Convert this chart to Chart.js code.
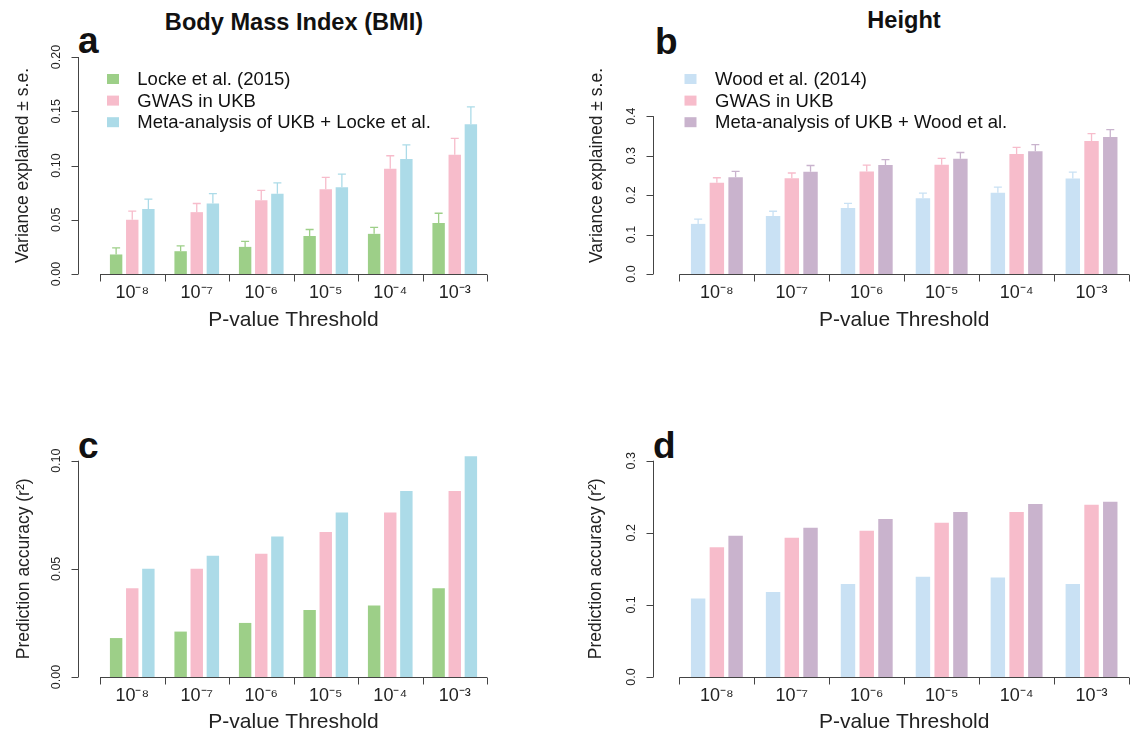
<!DOCTYPE html>
<html>
<head>
<meta charset="utf-8">
<script src="https://cdn.jsdelivr.net/npm/chart.js@4.4.1/dist/chart.umd.min.js"></script>
<style>
  body { margin: 0; width: 1131px; height: 736px; background: #fff; position: relative; overflow: hidden;
         font-family: "Liberation Sans", Arial, Helvetica, sans-serif; color: #111; }
  canvas { position: absolute; }
  .title { position: absolute; font-weight: bold; font-size: 23.6px; line-height: 1; transform: translateX(-50%); white-space: nowrap; }
  .letter { position: absolute; font-weight: bold; font-size: 37px; line-height: 1; }
</style>
</head>
<body>
<div class="title" style="left:294px;top:10.7px">Body Mass Index (BMI)</div>
<div class="title" style="left:904px;top:9.3px">Height</div>
<div class="letter" style="left:78px;top:22px">a</div>
<div class="letter" style="left:655px;top:23px">b</div>
<div class="letter" style="left:78px;top:427px">c</div>
<div class="letter" style="left:653px;top:427px">d</div>

<canvas id="chartA" width="565" height="368" style="left:0;top:0"></canvas>
<canvas id="chartB" width="566" height="368" style="left:565px;top:0"></canvas>
<canvas id="chartC" width="565" height="368" style="left:0;top:368px"></canvas>
<canvas id="chartD" width="566" height="368" style="left:565px;top:368px"></canvas>

<script>
// categories
const thresholds = ["10⁻⁸", "10⁻⁷", "10⁻⁶", "10⁻⁵", "10⁻⁴", "10⁻³"];

// a: BMI, variance explained (+ s.e.)
const bmiLocke     = [0.018, 0.021, 0.025, 0.035, 0.037, 0.047];
const bmiLockeSE   = [0.006, 0.005, 0.005, 0.006, 0.006, 0.009];
const bmiUKB       = [0.050, 0.057, 0.068, 0.078, 0.097, 0.110];
const bmiUKBSE     = [0.008, 0.008, 0.009, 0.011, 0.012, 0.015];
const bmiMeta      = [0.060, 0.065, 0.074, 0.080, 0.106, 0.138];
const bmiMetaSE    = [0.009, 0.009, 0.010, 0.012, 0.013, 0.016];

// b: Height, variance explained (+ s.e.)
const htWood       = [0.127, 0.147, 0.167, 0.192, 0.206, 0.242];
const htWoodSE     = [0.012, 0.012, 0.012, 0.013, 0.014, 0.016];
const htUKB        = [0.231, 0.243, 0.260, 0.277, 0.304, 0.337];
const htUKBSE      = [0.013, 0.013, 0.016, 0.016, 0.017, 0.019];
const htMeta       = [0.245, 0.259, 0.276, 0.292, 0.311, 0.347];
const htMetaSE     = [0.015, 0.016, 0.014, 0.016, 0.017, 0.019];

// c: BMI, prediction accuracy (r2)
const bmiLockeR2   = [0.018, 0.021, 0.025, 0.031, 0.033, 0.041];
const bmiUKBR2     = [0.041, 0.050, 0.057, 0.067, 0.076, 0.086];
const bmiMetaR2    = [0.050, 0.056, 0.065, 0.076, 0.086, 0.102];

// d: Height, prediction accuracy (r2)
const htWoodR2     = [0.109, 0.118, 0.129, 0.139, 0.138, 0.129];
const htUKBR2      = [0.180, 0.193, 0.203, 0.214, 0.229, 0.239];
const htMetaR2     = [0.196, 0.207, 0.219, 0.229, 0.240, 0.243];

// y tick labels
const ticksBmiVar  = [0, 0.05, 0.10, 0.15, 0.20];
const ticksHtVar   = [0, 0.1, 0.2, 0.3, 0.4];
const ticksBmiR2   = [0, 0.05, 0.10];
const ticksHtR2    = [0, 0.1, 0.2, 0.3];

const GREEN = "#9dcf88", PINK = "#f7bccb", BLUE = "#acdbe8", LIGHTBLUE = "#c9e1f4", PURPLE = "#c9b3cd";

// R-style look: detached axes, upper error bars, boxed legend
const rStyle = {
    id: "rStyle",
    afterDatasetsDraw(chart, args, opts) {
        const ctx = chart.ctx, x = chart.scales.x, y = chart.scales.y;
        ctx.save();

        // error bars (upper half only)
        chart.data.datasets.forEach((ds, i) => {
            if (!ds.se) return;
            ctx.strokeStyle = ds.backgroundColor;
            ctx.lineWidth = 1.3;
            chart.getDatasetMeta(i).data.forEach((bar, j) => {
                const top = y.getPixelForValue(ds.data[j] + ds.se[j]);
                ctx.beginPath();
                ctx.moveTo(bar.x, bar.y);
                ctx.lineTo(bar.x, top);
                ctx.moveTo(bar.x - 4, top);
                ctx.lineTo(bar.x + 4, top);
                ctx.stroke();
            });
        });

        // y axis line, from first to last tick
        ctx.strokeStyle = "#444";
        ctx.lineWidth = 1;
        const ax = Math.round(chart.chartArea.left - opts.gap) + 0.5;
        const yt = y.ticks;
        ctx.beginPath();
        ctx.moveTo(ax, y.getPixelForValue(yt[0].value));
        ctx.lineTo(ax, y.getPixelForValue(yt[yt.length - 1].value));
        yt.forEach(t => {
            const py = Math.round(y.getPixelForValue(t.value)) + 0.5;
            ctx.moveTo(ax, py);
            ctx.lineTo(ax - 7, py);
        });

        // x axis line with ticks at group boundaries
        const n = chart.data.labels.length;
        const half = (x.getPixelForValue(1) - x.getPixelForValue(0)) / 2;
        const base = Math.round(y.getPixelForValue(0)) + 0.5;
        ctx.moveTo(x.getPixelForValue(0) - half, base);
        ctx.lineTo(x.getPixelForValue(n - 1) + half, base);
        for (let k = 0; k <= n; k++) {
            const px = Math.round(x.getPixelForValue(0) - half + 2 * half * k) + 0.5;
            ctx.moveTo(px, base);
            ctx.lineTo(px, base + 7);
        }
        ctx.stroke();

        // legend
        if (opts.legend) {
            ctx.font = "18.5px 'Liberation Sans', Arial, sans-serif";
            ctx.textBaseline = "alphabetic";
            ctx.textAlign = "left";
            chart.data.datasets.forEach((ds, i) => {
                const b = opts.legend.base + i * 21.6;
                ctx.fillStyle = ds.backgroundColor;
                ctx.fillRect(opts.legend.box, b - 11, 12, 10);
                ctx.fillStyle = "#111";
                ctx.fillText(ds.label, opts.legend.text, b);
            });
        }
        ctx.restore();
    }
};

function makePanel(id, p) {
    return new Chart(document.getElementById(id), {
        type: "bar",
        data: {
            labels: thresholds,
            datasets: p.series.map(s => ({
                label: s.label, data: s.data, se: s.se,
                backgroundColor: s.color, borderWidth: 0, clip: false,
                categoryPercentage: 0.75, barPercentage: 0.77
            }))
        },
        options: {
            responsive: false,
            animation: false,
            layout: { padding: { left: 0, right: p.padRight, top: p.padTop, bottom: 0 } },
            plugins: {
                legend: { display: false },
                tooltip: { enabled: false },
                rStyle: { gap: p.gap, legend: p.legend }
            },
            scales: {
                x: {
                    grid: { display: false, drawTicks: false },
                    border: { display: false },
                    ticks: { color: "#222", font: { size: 18 }, padding: 8.3, maxRotation: 0, autoSkip: false },
                    title: { display: true, text: "P-value Threshold", color: "#222", font: { size: 21 },
                             padding: { top: 0, bottom: p.xTitlePad } },
                    afterFit: s => { s.height = p.xHeight; }
                },
                y: {
                    min: 0,
                    max: p.max,
                    afterBuildTicks: s => { s.ticks = p.ticks.map(v => ({ value: v })); },
                    grid: { display: false, drawTicks: false },
                    border: { display: false },
                    ticks: { color: "#222", font: { size: 12.5 }, minRotation: 90, maxRotation: 90,
                             crossAlign: "center", padding: p.tickPad,
                             callback: v => Number(v).toFixed(p.digits) },
                    title: { display: true, text: p.yTitle, color: "#222", font: { size: 17.5 },
                             padding: { top: p.yTitlePad, bottom: 0 } },
                    afterFit: s => { s.width = p.yWidth; }
                }
            }
        },
        plugins: [rStyle]
    });
}

makePanel("chartA", {
    series: [
        { label: "Locke et al. (2015)", data: bmiLocke, se: bmiLockeSE, color: GREEN },
        { label: "GWAS in UKB", data: bmiUKB, se: bmiUKBSE, color: PINK },
        { label: "Meta-analysis of UKB + Locke et al.", data: bmiMeta, se: bmiMetaSE, color: BLUE }
    ],
    max: 0.20, ticks: ticksBmiVar, digits: 2, yTitle: "Variance explained ± s.e.",
    padTop: 57, padRight: 78, yWidth: 100, xHeight: 94, xTitlePad: 34.7,
    gap: 22, tickPad: 30.8, yTitlePad: 12.5,
    legend: { box: 107, text: 137.3, base: 85 }
});

makePanel("chartB", {
    series: [
        { label: "Wood et al. (2014)", data: htWood, se: htWoodSE, color: LIGHTBLUE },
        { label: "GWAS in UKB", data: htUKB, se: htUKBSE, color: PINK },
        { label: "Meta-analysis of UKB + Wood et al.", data: htMeta, se: htMetaSE, color: PURPLE }
    ],
    max: 0.55, ticks: ticksHtVar, digits: 1, yTitle: "Variance explained ± s.e.",
    padTop: 57, padRight: 2, yWidth: 114.4, xHeight: 94, xTitlePad: 34.7,
    gap: 26.4, tickPad: 39.3, yTitlePad: 21.5,
    legend: { box: 119.5, text: 150, base: 85 }
});

makePanel("chartC", {
    series: [
        { label: "Locke et al. (2015)", data: bmiLockeR2, color: GREEN },
        { label: "GWAS in UKB", data: bmiUKBR2, color: PINK },
        { label: "Meta-analysis of UKB + Locke et al.", data: bmiMetaR2, color: BLUE }
    ],
    max: 0.10, ticks: ticksBmiR2, digits: 2, yTitle: "Prediction accuracy (r²)",
    padTop: 92.7, padRight: 78, yWidth: 100, xHeight: 59, xTitlePad: 1,
    gap: 22, tickPad: 30.8, yTitlePad: 13.5
});

makePanel("chartD", {
    series: [
        { label: "Wood et al. (2014)", data: htWoodR2, color: LIGHTBLUE },
        { label: "GWAS in UKB", data: htUKBR2, color: PINK },
        { label: "Meta-analysis of UKB + Wood et al.", data: htMetaR2, color: PURPLE }
    ],
    max: 0.30, ticks: ticksHtR2, digits: 1, yTitle: "Prediction accuracy (r²)",
    padTop: 92.7, padRight: 2, yWidth: 114.4, xHeight: 59, xTitlePad: 1,
    gap: 26.4, tickPad: 39.3, yTitlePad: 20.5
});
</script>
</body>
</html>
